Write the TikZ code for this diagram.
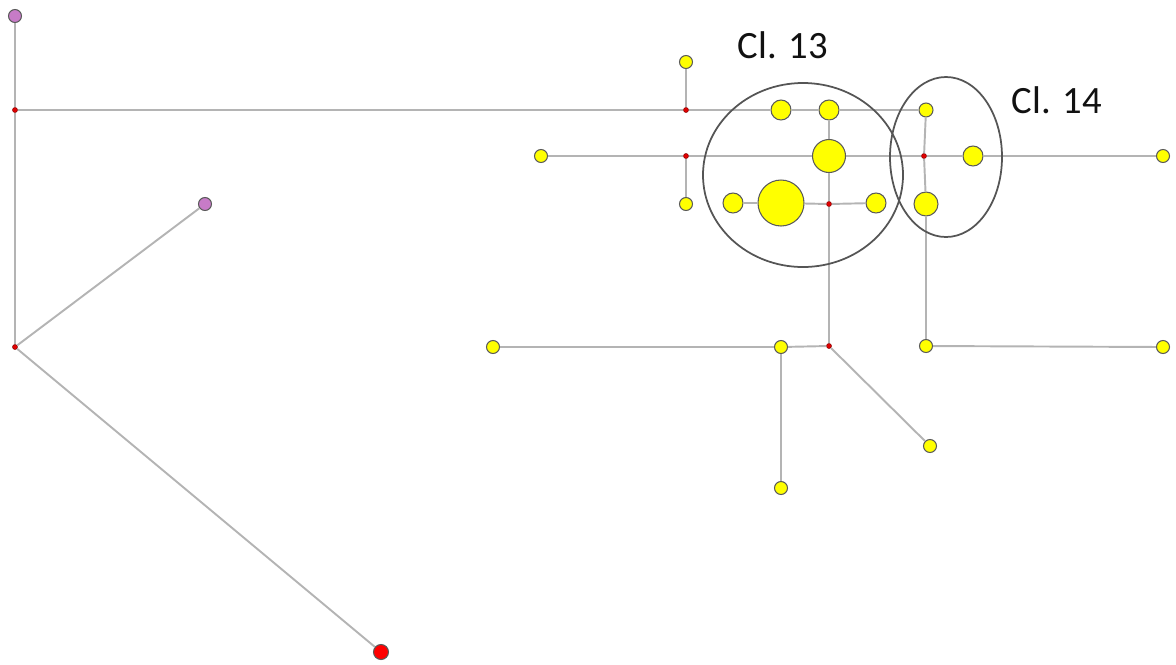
\documentclass[tikz,border=0pt]{standalone}
\usepackage{fontspec}
\setmainfont{Carlito}
\usetikzlibrary{calc, positioning}
\definecolor{color_edge}{HTML}{B4B4B4}
\definecolor{color_outline}{HTML}{5A5A5A}
\definecolor{color_sample}{HTML}{FFFF00}
\definecolor{color_junction}{HTML}{E00000}
\definecolor{color_source}{HTML}{C77BC7}
\definecolor{color_root}{HTML}{FF0000}
\definecolor{color_cluster}{HTML}{555555}
\definecolor{color_text}{HTML}{111111}
\tikzset{
  net_edge/.style={draw=color_edge, line width=1.1pt},
  cluster_ring/.style={draw=color_cluster, line width=1pt},
  cluster_label/.style={font=\fontsize{22}{26}\selectfont, text=color_text, inner sep=0pt},
  junction_dot/.style={circle, fill=color_junction, draw=color_junction!60!black, line width=0.3pt, inner sep=0pt, minimum size=0.1cm},
  sample_dot/.style={circle, fill=color_sample, draw=color_outline, line width=0.6pt, inner sep=0pt, minimum size=0.26cm},
  source_dot/.style={circle, fill=color_source, draw=color_outline, line width=0.6pt, inner sep=0pt, minimum size=0.26cm},
  root_dot/.style={circle, fill=color_root, draw=color_outline, line width=0.6pt, inner sep=0pt, minimum size=0.3cm},
  hap_m/.style={minimum size=0.4cm},
  hap_l/.style={minimum size=0.48cm},
  hap_xl/.style={minimum size=0.66cm},
  hap_xxl/.style={minimum size=0.92cm},
}
\begin{document}
\begin{tikzpicture}[x=0.02cm, y=-0.02cm]
    \useasboundingbox (0,0) rectangle (1176,664);

    \node[source_dot] (p1) at (15,16) {};
    \node[junction_dot] (j1) at (15,110) {};
    \node[source_dot] (p2) at (205,204) {};
    \node[junction_dot] (j2) at (15,347) {};
    \node[root_dot] (r1) at (381,652) {};

    \node[junction_dot] (j3) at (686,110) {};
    \node[sample_dot] (ya) at (686,62) {};
    \node[sample_dot, hap_m] (yb) at (781,110) {};
    \node[sample_dot, hap_m] (yc) at (829,110) {};
    \node[sample_dot, minimum size=0.28cm] (yd) at (926,110) {};

    \node[sample_dot] (ye) at (541,156) {};
    \node[junction_dot] (j4) at (686,156) {};
    \node[sample_dot, hap_xl] (yf) at (829,156) {};
    \node[junction_dot] (j5) at (924,156) {};
    \node[sample_dot, hap_m] (yg) at (973,156) {};
    \node[sample_dot] (yh) at (1163,156) {};

    \node[sample_dot] (yi) at (686,204) {};
    \node[sample_dot, hap_m] (yj) at (733,203) {};
    \node[sample_dot, hap_xxl] (yk) at (781,203) {};
    \node[junction_dot] (j6) at (829,204) {};
    \node[sample_dot, hap_m] (yl) at (876,203) {};
    \node[sample_dot, hap_l] (ym) at (926,204) {};

    \node[sample_dot] (yn) at (493,347) {};
    \node[sample_dot] (yo) at (781,347) {};
    \node[junction_dot] (j7) at (829,346) {};
    \node[sample_dot] (yp) at (926,346) {};
    \node[sample_dot] (yq) at (1163,347) {};
    \node[sample_dot] (yr) at (930,446) {};
    \node[sample_dot] (ys) at (781,488) {};

    \draw[net_edge] (p1) -- (j1);
    \draw[net_edge] (j1) -- (j2);
    \draw[net_edge] (j2) -- (p2);
    \draw[net_edge] (j2) -- (r1);
    \draw[net_edge] (j1) -- (j3);
    \draw[net_edge] (j3) -- (ya);
    \draw[net_edge] (j3) -- (yb);
    \draw[net_edge] (yb) -- (yc);
    \draw[net_edge] (yc) -- (yd);
    \draw[net_edge] (ye) -- (j4);
    \draw[net_edge] (j4) -- (yf);
    \draw[net_edge] (yf) -- (j5);
    \draw[net_edge] (j5) -- (yg);
    \draw[net_edge] (yg) -- (yh);
    \draw[net_edge] (j4) -- (yi);
    \draw[net_edge] (yc) -- (yf);
    \draw[net_edge] (yf) -- (j6);
    \draw[net_edge] (j6) -- (j7);
    \draw[net_edge] (yj) -- (yk);
    \draw[net_edge] (yk) -- (j6);
    \draw[net_edge] (j6) -- (yl);
    \draw[net_edge] (yd) -- (j5);
    \draw[net_edge] (j5) -- (ym);
    \draw[net_edge] (ym) -- (yp);
    \draw[net_edge] (yn) -- (yo);
    \draw[net_edge] (yo) -- (j7);
    \draw[net_edge] (yp) -- (yq);
    \draw[net_edge] (j7) -- (yr);
    \draw[net_edge] (yo) -- (ys);

    \draw[cluster_ring] (803,175) ellipse [x radius=100, y radius=92];
    \draw[cluster_ring] (946,157) ellipse [x radius=56, y radius=80];
    \node[cluster_label] (cl13) at (783,45) {Cl. 13};
    \node[cluster_label] (cl14) at (1057,100) {Cl. 14};
\end{tikzpicture}
\end{document}
